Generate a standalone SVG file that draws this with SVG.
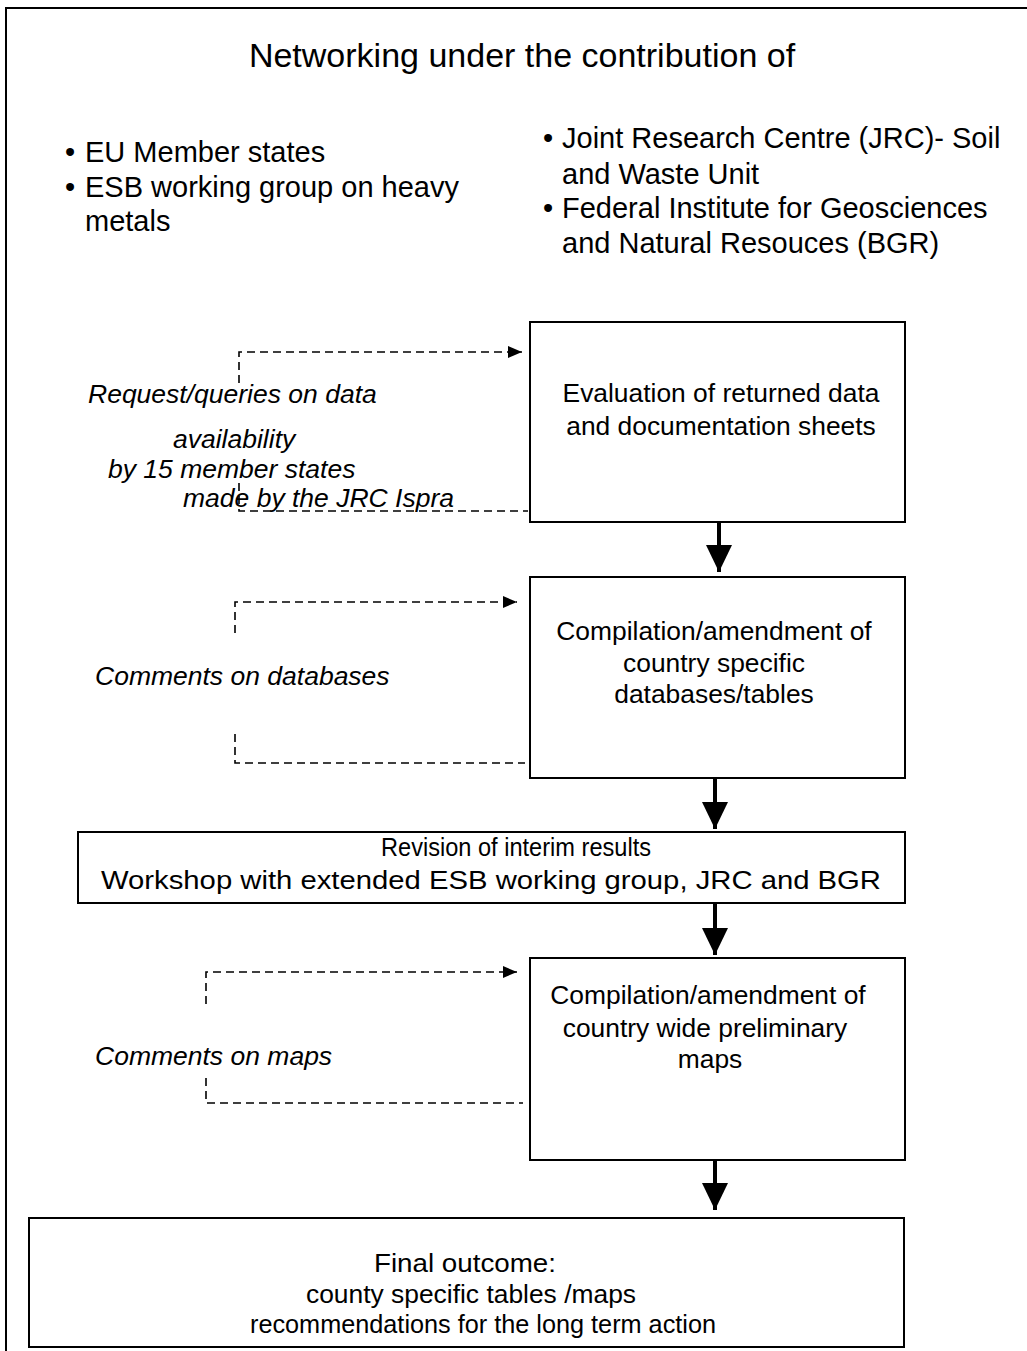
<svg xmlns="http://www.w3.org/2000/svg" width="1027" height="1351" viewBox="0 0 1027 1351">
<style>
text{font-family:"Liberation Sans",Arial,sans-serif;fill:#000}
.title{font-size:34px;text-anchor:middle}
.bul{font-size:29px}
.box{fill:#fff;stroke:#000;stroke-width:2}
.bt{font-size:26.4px;text-anchor:middle}
.lbl{font-size:26.5px;font-style:italic}
.dash{fill:none;stroke:#000;stroke-width:1.6;stroke-dasharray:8,5}
.solid{fill:none;stroke:#000;stroke-width:4}
</style>
<defs>
<marker id="dh" markerWidth="14" markerHeight="12" refX="14" refY="6" orient="auto" markerUnits="userSpaceOnUse">
<path d="M0,0 L14,6 L0,12 Z" fill="#000"/>
</marker>
<marker id="sh" markerWidth="26" markerHeight="27" refX="27" refY="13" orient="auto" markerUnits="userSpaceOnUse">
<path d="M0,0 L27,13 L0,26 Z" fill="#000"/>
</marker>
</defs>
<rect width="1027" height="1351" fill="#fff"/>
<path d="M6,1351 V8 H1030" fill="none" stroke="#000" stroke-width="2"/>
<g id="header">
<text class="title" x="522" y="67">Networking under the contribution of</text>
<text class="bul" x="65" y="162">•</text><text class="bul" x="85" y="162">EU Member states</text>
<text class="bul" x="65" y="197">•</text><text class="bul" x="85" y="197">ESB working group on heavy</text>
<text class="bul" x="85" y="231">metals</text>
<text class="bul" x="543" y="148">•</text><text class="bul" x="562" y="148">Joint Research Centre (JRC)- Soil</text>
<text class="bul" x="562" y="184">and Waste Unit</text>
<text class="bul" x="543" y="218">•</text><text class="bul" x="562" y="218">Federal Institute for Geosciences</text>
<text class="bul" x="562" y="253">and Natural Resouces (BGR)</text>
</g>
<g id="n1">
<rect class="box" x="530" y="322" width="375" height="200"/>
<text class="bt" x="721" y="402">Evaluation of returned data</text>
<text class="bt" x="721" y="435">and documentation sheets</text>
</g>
<g id="n2">
<rect class="box" x="530" y="577" width="375" height="201"/>
<text class="bt" x="714" y="640">Compilation/amendment of</text>
<text class="bt" x="714" y="672">country specific</text>
<text class="bt" x="714" y="703">databases/tables</text>
</g>
<g id="n3">
<rect class="box" x="78" y="832" width="827" height="71"/>
<text class="bt" x="516" y="856" textLength="270" lengthAdjust="spacingAndGlyphs">Revision of interim results</text>
<text class="bt" x="491" y="889" textLength="780" lengthAdjust="spacingAndGlyphs">Workshop with extended ESB working group, JRC and BGR</text>
</g>
<g id="n4">
<rect class="box" x="530" y="958" width="375" height="202"/>
<text class="bt" x="708" y="1004">Compilation/amendment of</text>
<text class="bt" x="705" y="1037">country wide preliminary</text>
<text class="bt" x="710" y="1068">maps</text>
</g>
<g id="n5">
<rect class="box" x="29" y="1218" width="875" height="129"/>
<text class="bt" x="465" y="1272" textLength="182" lengthAdjust="spacingAndGlyphs">Final outcome:</text>
<text class="bt" x="471" y="1303">county specific tables /maps</text>
<text class="bt" x="483" y="1333" textLength="466" lengthAdjust="spacingAndGlyphs">recommendations for the long term action</text>
</g>
<g id="labels">
<text class="lbl" x="88" y="403">Request/queries on data</text>
<text class="lbl" x="173" y="448">availability</text>
<text class="lbl" x="108" y="478">by 15 member states</text>
<text class="lbl" x="183" y="507">made by the JRC Ispra</text>
<text class="lbl" x="95" y="685">Comments on databases</text>
<text class="lbl" x="95" y="1065">Comments on maps</text>
</g>
<g id="connectors">
<path class="dash" d="M239,383 V352 H522" marker-end="url(#dh)"/>
<path class="dash" d="M239,483 V511 H528"/>
<path class="dash" d="M235,633 V602 H517" marker-end="url(#dh)"/>
<path class="dash" d="M235,734 V763 H525"/>
<path class="dash" d="M206,1004 V972 H517" marker-end="url(#dh)"/>
<path class="dash" d="M206,1078 V1103 H523"/>
<path class="solid" d="M719,522 V572" marker-end="url(#sh)"/>
<path class="solid" d="M715,779 V829" marker-end="url(#sh)"/>
<path class="solid" d="M715,904 V955" marker-end="url(#sh)"/>
<path class="solid" d="M715,1161 V1210" marker-end="url(#sh)"/>
</g>
</svg>
